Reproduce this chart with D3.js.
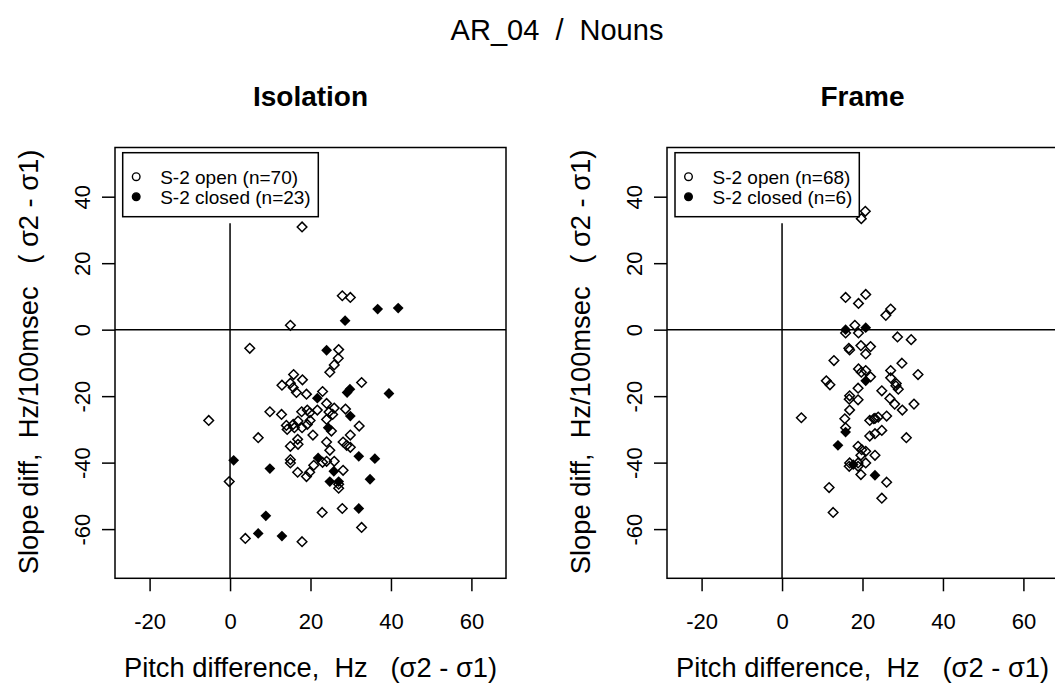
<!DOCTYPE html>
<html>
<head>
<meta charset="utf-8">
<script src="https://cdn.jsdelivr.net/npm/d3@7"></script>
<style>
  body { margin: 0; background: #fff; }
  text { font-family: "Liberation Sans", Arial, sans-serif; fill: #000; white-space: pre; }
</style>
</head>
<body>
<div id="chart"></div>
<script>
// tick values shared by both panels
const xTicks = [-20, 0, 20, 40, 60];
const yTicks = [-60, -40, -20, 0, 20, 40];

// Isolation panel, [pitch diff, slope diff]
const isoOpen = [
  [17.9, 30.9], [27.9, 10.2], [29.9, 9.7], [15.0, 1.3], [4.9, -5.6], [27.0, -6.0], [26.9, -8.6], [25.9, -10.6], [24.8, -12.8], [32.7, -15.9],
  [15.8, -13.5], [18.0, -15.1], [12.9, -16.7], [15.0, -16.1], [16.5, -18.9], [19.0, -19.4], [15.7, -17.4], [23.0, -18.6], [24.0, -22.2], [9.9, -24.7],
  [12.8, -25.5], [17.8, -24.7], [19.2, -24.2], [19.8, -25.0], [21.7, -24.2], [24.6, -24.8], [25.9, -23.6], [28.7, -23.9], [19.9, -27.3], [24.0, -27.0],
  [16.9, -27.5], [14.0, -28.8], [14.2, -30.0], [15.7, -28.5], [17.9, -29.5], [19.2, -28.5], [25.2, -30.5], [32.1, -29.0], [-5.3, -27.3], [7.0, -32.5],
  [20.6, -31.7], [29.9, -31.7], [16.8, -33.0], [15.0, -35.1], [16.9, -34.5], [24.0, -33.8], [24.8, -36.3], [28.1, -33.8], [29.0, -34.8], [29.9, -35.4],
  [15.0, -39.1], [15.0, -40.1], [20.8, -40.8], [23.0, -39.9], [24.0, -39.6], [25.9, -39.6], [16.8, -42.9], [19.0, -44.2], [19.8, -42.9], [28.1, -42.3],
  [27.0, -46.5], [27.0, -47.7], [-0.2, -45.7], [22.9, -55.0], [27.9, -53.8], [32.7, -59.5], [3.8, -62.8], [17.9, -63.8], [25.5, -25.5], [16.0, -29.5]
];
const isoClosed = [
  [28.6, 2.7], [36.7, 6.2], [41.8, 6.5], [24.0, -6.2], [29.1, -18.9], [29.8, -17.9], [39.5, -19.2], [21.7, -20.6], [29.9, -26.0], [24.4, -29.5],
  [0.9, -39.3], [9.9, -41.8], [21.9, -38.6], [32.0, -38.1], [36.0, -38.8], [25.8, -42.6], [24.8, -45.7], [27.0, -45.7], [34.8, -45.0], [32.0, -53.8],
  [8.9, -56.0], [7.0, -61.3], [12.9, -62.1]
];

// Frame panel
const frameOpen = [
  [20.7, 35.6], [19.7, 33.4], [15.8, 9.7], [20.8, 10.6], [19.0, 7.9], [27.0, 6.2], [25.8, 4.3], [15.8, -1.0], [18.1, 1.3], [19.0, -1.0],
  [28.7, -2.2], [32.1, -3.0], [16.8, -6.1], [16.6, -5.6], [19.6, -4.8], [22.0, -5.1], [20.8, -7.3], [12.9, -9.3], [29.8, -10.1], [19.0, -11.8],
  [19.7, -12.8], [20.8, -12.3], [22.0, -14.2], [27.0, -12.3], [33.8, -13.5], [11.0, -15.4], [11.9, -16.6], [27.0, -14.5], [28.4, -16.2], [28.3, -16.9],
  [28.9, -17.9], [24.8, -18.4], [18.9, -17.6], [16.8, -19.9], [16.7, -20.9], [18.9, -21.1], [26.8, -20.7], [28.0, -22.4], [29.9, -24.2], [32.8, -22.4],
  [16.8, -24.2], [4.8, -26.5], [15.6, -26.8], [15.8, -29.5], [21.8, -27.3], [23.1, -26.7], [23.9, -26.3], [26.0, -26.0], [21.8, -32.0], [23.1, -31.3],
  [24.8, -30.3], [30.9, -32.5], [18.9, -35.1], [19.8, -36.1], [20.8, -36.6], [23.1, -37.8], [19.6, -37.8], [16.8, -40.1], [16.7, -41.1], [18.9, -40.1],
  [18.9, -41.1], [20.8, -40.1], [19.6, -43.6], [26.0, -45.9], [11.7, -47.5], [24.8, -50.7], [12.7, -55.0], [22.8, -26.8]
];
const frameClosed = [
  [15.8, 0.0], [20.8, 0.6], [20.8, -15.4], [15.8, -30.8], [13.9, -34.8], [17.7, -40.6], [23.1, -43.8]
];

const panels = [
  { title: "Isolation", left: 115, open: isoOpen, closed: isoClosed, legend: ["S-2 open (n=70)", "S-2 closed (n=23)"], legendW: 195.6, legendX: 7.7 },
  { title: "Frame", left: 667, open: frameOpen, closed: frameClosed, legend: ["S-2 open (n=68)", "S-2 closed (n=6)"], legendW: 184.3, legendX: 8 }
];

const W = 1055, H = 683;
const plotTop = 147.5, pw = 391, ph = 430.8;

const svg = d3.select("#chart").append("svg")
  .attr("width", W)
  .attr("height", H);

svg.append("text")
  .attr("x", 557)
  .attr("y", 30)
  .attr("dy", "0.36em")
  .attr("text-anchor", "middle")
  .style("font-size", "29px")
  .text("AR_04  /  Nouns");

// R style xlim/ylim with 4% padding
const x = d3.scaleLinear().domain([-28.6, 68.6]).range([0, pw]);
const y = d3.scaleLinear().domain([-74.8, 54.8]).range([ph, 0]);

const diamond = r => `M0,${-r}L${r},0L0,${r}L${-r},0Z`;

panels.forEach(function (p) {
  const g = svg.append("g")
    .attr("transform", "translate(" + p.left + "," + plotTop + ")");

  g.append("text")
    .attr("x", pw / 2)
    .attr("y", 96 - plotTop)
    .attr("dy", "0.36em")
    .attr("text-anchor", "middle")
    .style("font-size", "28px")
    .style("font-weight", "bold")
    .text(p.title);

  // x axis
  g.append("g")
    .attr("transform", "translate(0," + ph + ")")
    .call(d3.axisBottom(x).tickValues(xTicks).tickFormat(d => String(d)).tickSize(13).tickPadding(22))
    .call(a => a.select(".domain").remove())
    .call(a => a.selectAll("line").attr("stroke", "#000").attr("stroke-width", 1.5))
    .call(a => a.selectAll("text").style("font-size", "22px"));

  // y axis, labels parallel to axis
  g.append("g")
    .call(d3.axisLeft(y).tickValues(yTicks).tickFormat(d => String(d)).tickSize(13))
    .call(a => a.select(".domain").remove())
    .call(a => a.selectAll("line").attr("stroke", "#000").attr("stroke-width", 1.5))
    .call(a => a.selectAll("text")
      .attr("x", null)
      .attr("dy", "0.36em")
      .attr("text-anchor", "middle")
      .attr("transform", "translate(-33,0) rotate(-90)")
      .style("font-size", "22px"));

  g.append("text")
    .attr("transform", "translate(" + (-87) + "," + (ph / 2 - 1) + ") rotate(-90)")
    .attr("dy", "0.36em")
    .attr("text-anchor", "middle")
    .style("font-size", "27.3px")
    .text("Slope diff,  Hz/100msec   ( \u03c32 - \u03c31)");

  g.append("text")
    .attr("x", pw / 2)
    .attr("y", 667 - plotTop)
    .attr("dy", "0.36em")
    .attr("text-anchor", "middle")
    .style("font-size", "27.3px")
    .text("Pitch difference,  Hz   (\u03c32 - \u03c31)");

  // reference lines
  g.append("line")
    .attr("x1", 0).attr("x2", pw)
    .attr("y1", y(0)).attr("y2", y(0))
    .attr("stroke", "#000").attr("stroke-width", 1.5);
  g.append("line")
    .attr("x1", x(0)).attr("x2", x(0))
    .attr("y1", y(32)).attr("y2", ph)
    .attr("stroke", "#000").attr("stroke-width", 1.5);

  g.selectAll(".open")
    .data(p.open)
    .enter().append("path")
    .attr("class", "open")
    .attr("d", diamond(4.8))
    .attr("transform", d => "translate(" + x(d[0]) + "," + y(d[1]) + ")")
    .attr("fill", "none")
    .attr("stroke", "#000")
    .attr("stroke-width", 1.5);

  g.selectAll(".closed")
    .data(p.closed)
    .enter().append("path")
    .attr("class", "closed")
    .attr("d", diamond(5.4))
    .attr("transform", d => "translate(" + x(d[0]) + "," + y(d[1]) + ")")
    .attr("fill", "#000");

  // legend
  const lg = g.append("g").attr("transform", "translate(" + p.legendX + ",5.2)");
  lg.append("rect")
    .attr("width", p.legendW)
    .attr("height", 64)
    .attr("fill", "#fff")
    .attr("stroke", "#000")
    .attr("stroke-width", 1.5);
  p.legend.forEach(function (t, i) {
    lg.append("circle")
      .attr("cx", 13.5)
      .attr("cy", 24 + i * 20)
      .attr("r", 3.8)
      .attr("fill", i === 0 ? "#fff" : "#000")
      .attr("stroke", "#000")
      .attr("stroke-width", 1.4);
    lg.append("text")
      .attr("x", 37.5)
      .attr("y", 24 + i * 20)
      .attr("dy", "0.36em")
      .style("font-size", "19px")
      .text(t);
  });

  g.append("rect")
    .attr("width", pw)
    .attr("height", ph)
    .attr("fill", "none")
    .attr("stroke", "#000")
    .attr("stroke-width", 1.5);
});
</script>
</body>
</html>
